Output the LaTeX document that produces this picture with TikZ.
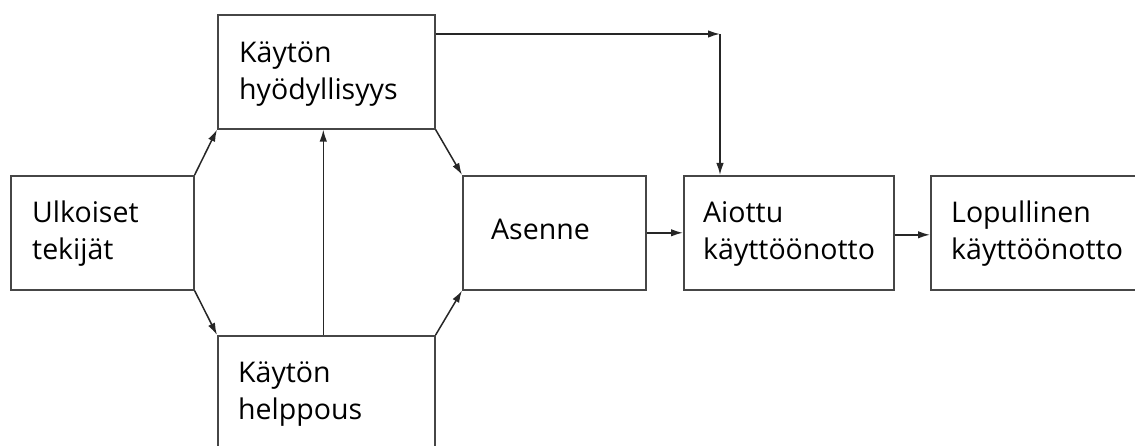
\documentclass[tikz,border=0pt]{standalone}
\usepackage{fontspec}
\setmainfont{Open Sans}
\usetikzlibrary{arrows.meta}
\definecolor{edge}{RGB}{70,70,70}
\begin{document}
\begin{tikzpicture}[x=1pt,y=-1pt,
  blk/.style={draw=edge,line width=1.6pt,rectangle,inner sep=0pt,anchor=north west},
  lbl/.style={anchor=base west,align=left,inner sep=0pt,font=\fontsize{28.5}{37}\selectfont},
  link/.style={draw=black!85,line width=1.5pt,-{Latex[length=12pt,width=7.5pt]}}]
\useasboundingbox (0,0) rectangle (1135,446);
\clip (0,0) rectangle (1135,446);
% boxes
\node[blk,minimum width=183pt,minimum height=114pt] (ulk) at (10,175) {};
\node[blk,minimum width=217pt,minimum height=114pt] (hyod) at (217,14) {};
\node[blk,minimum width=217pt,minimum height=130pt] (help) at (217,335) {};
\node[blk,minimum width=183pt,minimum height=114pt] (asen) at (462,175) {};
\node[blk,minimum width=210pt,minimum height=114pt] (aiot) at (683,175) {};
\node[blk,minimum width=220pt,minimum height=114pt] (lopu) at (930,175) {};
% texts (anchored at the baseline of the last line)
\node[lbl] (ulkt) at (32,260) {Ulkoiset\\tekijät};
\node[lbl] (hyodt) at (239,100) {Käytön\\hyödyllisyys};
\node[lbl] (helpt) at (238,419) {Käytön\\helppous};
\node[lbl] (asent) at (491,240) {Asenne};
\node[lbl] (aiott) at (703,260) {Aiottu\\käyttöönotto};
\node[lbl] (loput) at (951,260) {Lopullinen\\käyttöönotto};
% connectors
\draw[link] (ulk.north east) -- (hyod.south west);
\draw[link] (ulk.south east) -- (help.north west);
\draw[link] ([xshift=-3pt]help.north) -- ([xshift=-3pt]hyod.south);
\draw[link] (hyod.south east) -- (asen.north west);
\draw[link] (help.north east) -- (asen.south west);
\draw[link] (asen.east) -- (aiot.west);
\draw[link] ([yshift=-2pt]aiot.east) -- ([yshift=-2pt]lopu.west);
\coordinate (turn) at ([xshift=37pt]aiot.north west |- 0,34);
\draw[link] ([yshift=-20pt]hyod.north east) -- (turn);
\draw[link] (turn) -- ([xshift=37pt]aiot.north west);
\end{tikzpicture}
\end{document}
